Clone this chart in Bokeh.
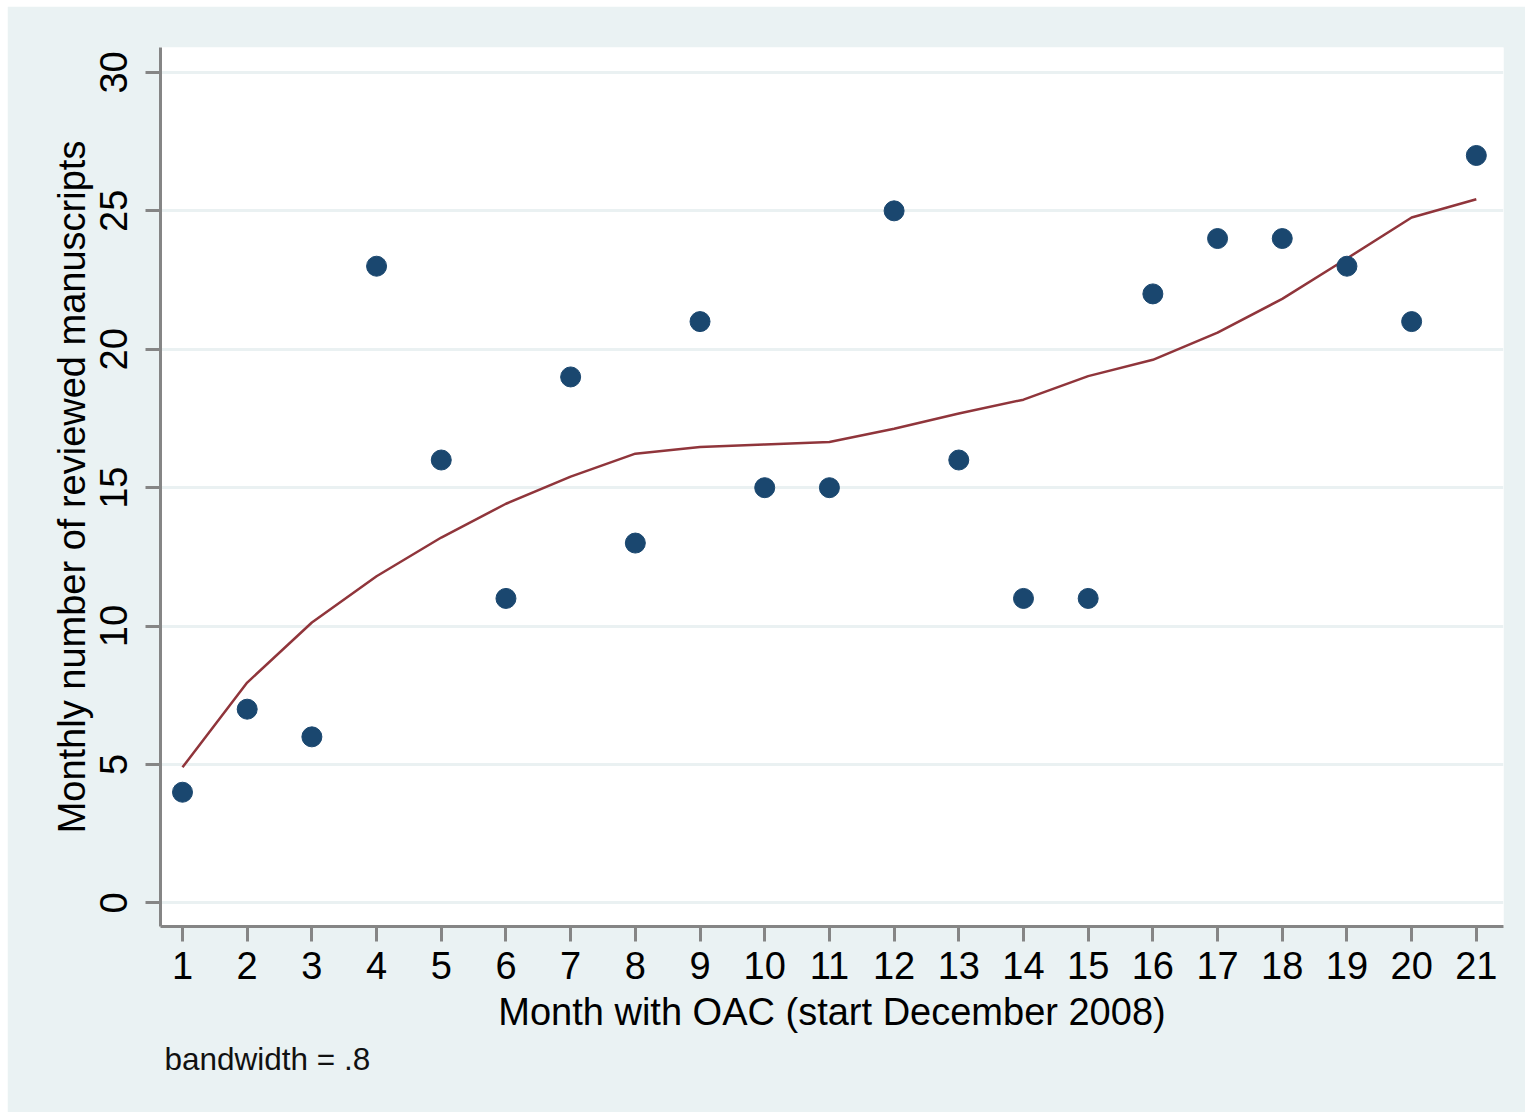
from bokeh.plotting import figure
from bokeh.models import FixedTicker, Range1d, Title
from bokeh.embed import file_html
from bokeh.resources import INLINE

# Data
months = list(range(1, 22))
reviewed = [4, 7, 6, 23, 16, 11, 19, 13, 21, 15, 15, 25, 16, 11, 11, 22, 24, 24, 23, 21, 27]
lowess = [4.9, 7.96, 10.13, 11.8, 13.2, 14.42, 15.4, 16.23, 16.47, 16.56, 16.65,
          17.13, 17.68, 18.18, 19.03, 19.62, 20.6, 21.82, 23.28, 24.76, 25.42]
x_ticks = list(range(1, 22))
y_ticks = [0, 5, 10, 15, 20, 25, 30]

FONT = "Liberation Sans"
BG = "#eaf2f3"
AXIS_COL = "#858585"

p = figure(
    frame_width=1343, frame_height=879,
    min_border_left=153, min_border_right=22, min_border_top=41, min_border_bottom=186,
    x_range=Range1d(0.66, 21.42), y_range=Range1d(-0.85, 30.9),
    output_backend="svg", toolbar_location=None,
)
p.margin = (6, 0, 0, 7)
p.background_fill_color = "white"
p.border_fill_color = BG
p.outline_line_color = None

p.line(months, lowess, line_color="#90353b", line_width=2.5)
p.scatter(months, reviewed, size=20, fill_color="#1a476f", line_color="#1a476f")

# Axes
for ax in (p.xaxis[0], p.yaxis[0]):
    ax.axis_line_color = AXIS_COL
    ax.axis_line_width = 3
    ax.major_tick_line_color = AXIS_COL
    ax.major_tick_line_width = 3
    ax.major_tick_out = 15
    ax.major_tick_in = 0
    ax.minor_tick_line_color = None
    ax.major_label_text_font = FONT
    ax.major_label_text_font_size = "38px"
    ax.major_label_text_color = "black"
    ax.axis_label_text_font = FONT
    ax.axis_label_text_font_size = "38px"
    ax.axis_label_text_font_style = "normal"
    ax.axis_label_text_color = "black"

p.xaxis.ticker = FixedTicker(ticks=x_ticks)
p.yaxis.ticker = FixedTicker(ticks=y_ticks)
p.xaxis.axis_label = "Month with OAC (start December 2008)"
p.yaxis.axis_label = "Monthly number of reviewed manuscripts"
p.yaxis.major_label_orientation = "vertical"
p.xaxis.major_label_standoff = 10
p.xaxis.axis_label_standoff = 9
p.yaxis.major_label_standoff = 18
p.yaxis.axis_label_standoff = 5

p.xgrid.grid_line_color = None
p.ygrid.grid_line_color = "#eaf1f2"
p.ygrid.grid_line_width = 3

note = Title(text="bandwidth = .8", align="left", offset=4,
             text_font=FONT, text_font_size="31.5px", text_font_style="normal",
             text_color="#111111", standoff=6)
p.add_layout(note, "below")

open("out.html", "w").write(file_html(p, INLINE))
